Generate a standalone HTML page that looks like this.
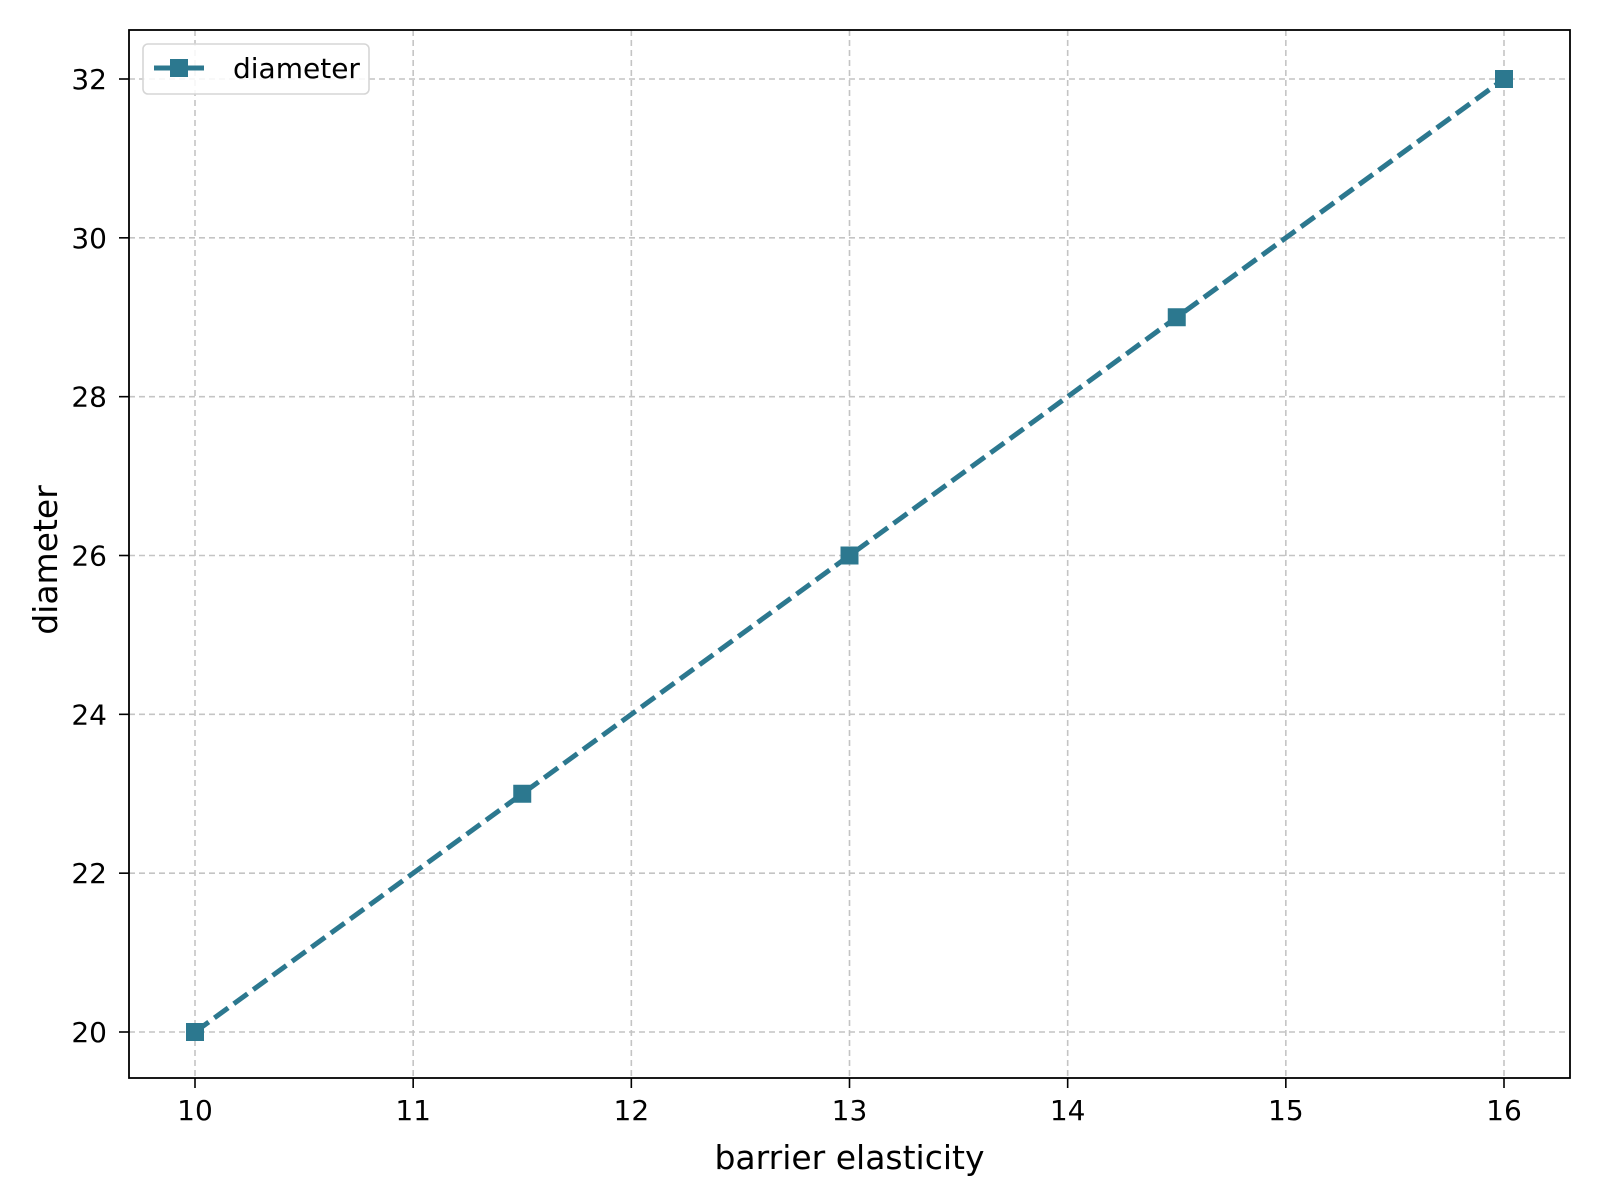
<!DOCTYPE html>
<html><head><meta charset="utf-8"><style>body{margin:0;background:#fff}svg{display:block}text{font-family:"DejaVu Sans","Liberation Sans",sans-serif}</style></head>
<body>
<svg id="chart" width="1600" height="1200" xmlns="http://www.w3.org/2000/svg">
<rect x="0" y="0" width="1600" height="1200" fill="#fff"/>
<g id="grid"></g><g id="series"></g><g id="axes"></g>
</svg>
<script>
const xValues = [10, 11.5, 13, 14.5, 16];
const yValues = [20, 23, 26, 29, 32];
const xTicks = [10, 11, 12, 13, 14, 15, 16];
const yTicks = [20, 22, 24, 26, 28, 30, 32];
const seriesName = 'diameter';

const L=129,R=1570,T=30,B=1078;
const sx=v=>195+(v-10)*(1504-195)/6;
const sy=v=>1032-(v-20)*(1032-79)/12;
const NS='http://www.w3.org/2000/svg';
function mk(tag,attrs,parent,text){const e=document.createElementNS(NS,tag);for(const k in attrs)e.setAttribute(k,attrs[k]);if(text!==undefined)e.textContent=text;parent.appendChild(e);return e;}
const grid=document.getElementById('grid'),series=document.getElementById('series'),axes=document.getElementById('axes');
xTicks.forEach(t=>{
  const g=mk('line',{x1:sx(t),x2:sx(t),y1:T,y2:B,stroke:'#c4c4c4','stroke-width':1.6,'stroke-dasharray':'6,4'},grid);
  
  
  const k=mk('line',{x1:sx(t),x2:sx(t),y1:B,y2:B+10,stroke:'#000','stroke-width':1.6},axes);
  
  
  const l=mk('text',{x:sx(t),y:1120,'font-size':28,'text-anchor':'middle'},axes,String(t));
  
  
});
yTicks.forEach(t=>{
  const g=mk('line',{x1:L,x2:R,y1:sy(t),y2:sy(t),stroke:'#c4c4c4','stroke-width':1.6,'stroke-dasharray':'6,4'},grid);
  
  
  const k=mk('line',{x1:L-10,x2:L,y1:sy(t),y2:sy(t),stroke:'#000','stroke-width':1.6},axes);
  
  
  const l=mk('text',{x:107,y:sy(t)+10,'font-size':28,'text-anchor':'end'},axes,String(t));
  
  
});
const pts=xValues.map((x,i)=>sx(x)+','+sy(yValues[i])).join(' ');
const pl=mk('polyline',{points:pts,fill:'none',stroke:'#2c788f','stroke-width':5,'stroke-dasharray':'17,7'},series);


xValues.forEach((x,i)=>{
  const m=mk('rect',{x:sx(x)-9,y:sy(yValues[i])-9,width:18,height:18,fill:'#2c788f'},series);
  
  
});
const fr=mk('rect',{x:L,y:T,width:R-L,height:B-T,fill:'none',stroke:'#000','stroke-width':1.8},axes);


const xl=mk('text',{x:(L+R)/2,y:1169,'font-size':33,'text-anchor':'middle'},axes,'barrier elasticity');


const yl=mk('text',{x:0,y:0,'font-size':33,'text-anchor':'middle',transform:'translate(57,560) rotate(-90)'},axes,'diameter');


const lg=mk('g',{},axes);


mk('rect',{x:143,y:44,width:226,height:50,rx:5,fill:'#fff','fill-opacity':0.85,stroke:'#d6d6d6','stroke-width':1.6},lg);
mk('line',{x1:154,x2:204,y1:68,y2:68,stroke:'#2c788f','stroke-width':5},lg);
mk('rect',{x:170,y:59,width:18,height:18,fill:'#2c788f'},lg);
const lt=mk('text',{x:233,y:78,'font-size':28},lg,seriesName);


</script>
</body></html>
